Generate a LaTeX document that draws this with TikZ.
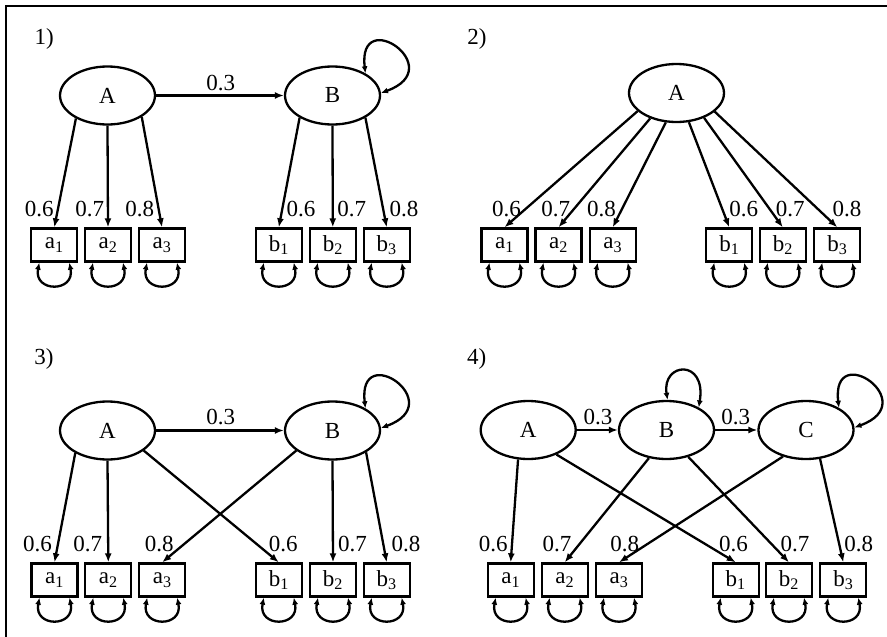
\documentclass[tikz,border=0pt]{standalone}
\usepackage{fontspec}
\setmainfont{Liberation Serif}
\usetikzlibrary{arrows.meta,shapes.geometric}
\begin{document}
\begin{tikzpicture}[x=1pt,y=-1pt,
  every node/.style={font=\fontsize{23}{27}\selectfont},
  latnode/.style={draw,ellipse,line width=2.3pt,minimum width=95pt,minimum height=58pt,inner sep=0pt},
  obs/.style={draw,rectangle,line width=2.3pt,minimum width=46pt,minimum height=33pt,inner sep=0pt},
  lbl/.style={anchor=base,inner sep=0pt},
  reg/.style={line width=2.3pt,-{Latex[length=9pt,width=7pt]}},
  varloop/.style={line width=2.3pt,{Latex[length=7pt,width=6pt]}-{Latex[length=7pt,width=6pt]}}
]
\useasboundingbox (0,0) rectangle (887,637);
\draw[line width=2.5pt] (6,640) -- (6,6) -- (890,6);

\newcommand\obsbox[3]{%
  \node[obs] (#1) at (#2) {#3};
  \draw[varloop] ([xshift=-15pt]#1.south) .. controls +(-6,30) and +(6,30) .. ([xshift=15pt]#1.south);}

% ---------- Panel 1 ----------
\node[lbl] (t1) at (44.3,44) {1)};
\node[latnode] (p1A) at (107.5,95.5) {A};
\node[latnode] (p1B) at (332.5,95.5) {B};
\obsbox{p1a1}{54.3,245}{a\textsubscript{1}}
\obsbox{p1a2}{108,245}{a\textsubscript{2}}
\obsbox{p1a3}{162,245}{a\textsubscript{3}}
\obsbox{p1b1}{278.8,245}{b\textsubscript{1}}
\obsbox{p1b2}{332.8,245}{b\textsubscript{2}}
\obsbox{p1b3}{386.7,245}{b\textsubscript{3}}
\draw[reg] (p1A.east) -- (p1B.west);
\node[lbl] (p1l0) at (220.8,90) {0.3};
\draw[varloop] (p1B.34) .. controls +(-8,-69) and +(69,-25) .. (p1B.3);
\draw[reg] (p1A.216) -- (p1a1.north);
\draw[reg] (p1A.south) -- (p1a2.north);
\draw[reg] (p1A.328) -- (p1a3.north);
\draw[reg] (p1B.214) -- (p1b1.north);
\draw[reg] (p1B.south) -- (p1b2.north);
\draw[reg] (p1B.326) -- (p1b3.north);
\node[lbl] (p1l1) at (39.2,216.5) {0.6};
\node[lbl] (p1l2) at (89.7,216.5) {0.7};
\node[lbl] (p1l3) at (139.7,216.5) {0.8};
\node[lbl] (p1l4) at (301,216.5) {0.6};
\node[lbl] (p1l5) at (351.7,216.5) {0.7};
\node[lbl] (p1l6) at (404,216.5) {0.8};

% ---------- Panel 2 ----------
\node[lbl] (t2) at (477,44) {2)};
\node[latnode] (p2A) at (676.5,93) {A};
\obsbox{p2a1}{504.5,245}{a\textsubscript{1}}
\obsbox{p2a2}{558.5,245}{a\textsubscript{2}}
\obsbox{p2a3}{612.7,245}{a\textsubscript{3}}
\obsbox{p2b1}{729.3,245}{b\textsubscript{1}}
\obsbox{p2b2}{782.8,245}{b\textsubscript{2}}
\obsbox{p2b3}{837.3,245}{b\textsubscript{3}}
\draw[reg] (p2A.205) -- (p2a1.north);
\draw[reg] (p2A.224) -- (p2a2.north);
\draw[reg] (p2A.250) -- (p2a3.north);
\draw[reg] (p2A.293) -- (p2b1.north);
\draw[reg] (p2A.318) -- (p2b2.north);
\draw[reg] (p2A.334) -- (p2b3.north);
\node[lbl] (p2l1) at (506.5,216.5) {0.6};
\node[lbl] (p2l2) at (555.7,216.5) {0.7};
\node[lbl] (p2l3) at (601.5,216.5) {0.8};
\node[lbl] (p2l4) at (743.7,216.5) {0.6};
\node[lbl] (p2l5) at (790.3,216.5) {0.7};
\node[lbl] (p2l6) at (847,216.5) {0.8};

% ---------- Panel 3 ----------
\node[lbl] (t3) at (44,364.7) {3)};
\node[latnode] (p3A) at (107.5,430.5) {A};
\node[latnode] (p3B) at (332.5,430.5) {B};
\obsbox{p3a1}{54.5,580}{a\textsubscript{1}}
\obsbox{p3a2}{108.3,580}{a\textsubscript{2}}
\obsbox{p3a3}{162.2,580}{a\textsubscript{3}}
\obsbox{p3b1}{278.8,580}{b\textsubscript{1}}
\obsbox{p3b2}{333,580}{b\textsubscript{2}}
\obsbox{p3b3}{386.7,580}{b\textsubscript{3}}
\draw[reg] (p3A.east) -- (p3B.west);
\node[lbl] (p3l0) at (220.8,424) {0.3};
\draw[varloop] (p3B.34) .. controls +(-8,-69) and +(69,-25) .. (p3B.3);
\draw[reg] (p3A.215) -- (p3a1.north);
\draw[reg] (p3A.south) -- (p3a2.north);
\draw[reg] (p3A.331) -- (p3b1.north);
\draw[reg] (p3B.209) -- (p3a3.north);
\draw[reg] (p3B.south) -- (p3b2.north);
\draw[reg] (p3B.327) -- (p3b3.north);
\node[lbl] (p3l1) at (37.5,551) {0.6};
\node[lbl] (p3l2) at (87.8,551) {0.7};
\node[lbl] (p3l3) at (159.2,551) {0.8};
\node[lbl] (p3l4) at (283.3,551) {0.6};
\node[lbl] (p3l5) at (352.5,551) {0.7};
\node[lbl] (p3l6) at (406,551) {0.8};

% ---------- Panel 4 ----------
\node[lbl] (t4) at (476.7,364.7) {4)};
\node[latnode] (p4A) at (528.2,430) {A};
\node[latnode] (p4B) at (666.5,430) {B};
\node[latnode] (p4C) at (806,430) {C};
\obsbox{p4a1}{510.7,580}{a\textsubscript{1}}
\obsbox{p4a2}{564.7,580}{a\textsubscript{2}}
\obsbox{p4a3}{619,580}{a\textsubscript{3}}
\obsbox{p4b1}{735.7,580}{b\textsubscript{1}}
\obsbox{p4b2}{789,580}{b\textsubscript{2}}
\obsbox{p4b3}{843.3,580}{b\textsubscript{3}}
\draw[reg] (p4A.east) -- (p4B.west);
\draw[reg] (p4B.east) -- (p4C.west);
\node[lbl] (p4l0) at (598,424.5) {0.3};
\node[lbl] (p4l00) at (735.7,424.5) {0.3};
\draw[varloop] (p4B.88) .. controls +(-6,-38) and +(8,-49) .. (p4B.35);
\draw[varloop] (p4C.34) .. controls +(-8,-69) and +(69,-25) .. (p4C.3);
\draw[reg] (p4A.251) -- (p4a1.north);
\draw[reg] (p4A.319) -- (p4b1.north);
\draw[reg] (p4B.238) -- (p4a2.north);
\draw[reg] (p4B.309.5) -- (p4b2.north);
\draw[reg] (p4C.229) -- (p4a3.north);
\draw[reg] (p4C.296) -- (p4b3.north);
\node[lbl] (p4l1) at (493.2,551) {0.6};
\node[lbl] (p4l2) at (557,551) {0.7};
\node[lbl] (p4l3) at (624.8,551) {0.8};
\node[lbl] (p4l4) at (733.5,551) {0.6};
\node[lbl] (p4l5) at (795,551) {0.7};
\node[lbl] (p4l6) at (858.7,551) {0.8};
\end{tikzpicture}
\end{document}
